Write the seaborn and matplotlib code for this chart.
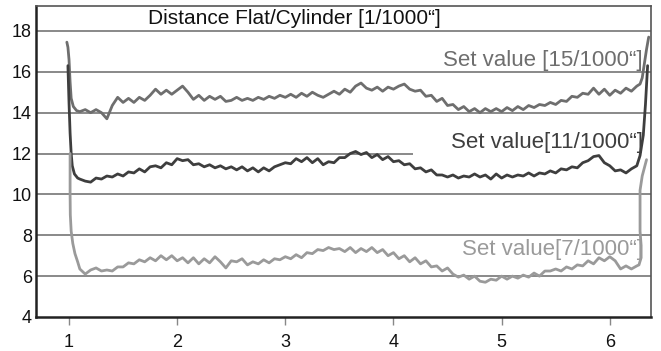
import matplotlib
matplotlib.use("Agg")
import matplotlib.pyplot as plt
import seaborn as sns
import pandas as pd

# ---------------- data ----------------
x_body = [1.10, 1.15, 1.20, 1.25, 1.30, 1.35, 1.40, 1.45, 1.50, 1.55,
          1.60, 1.65, 1.70, 1.75, 1.80, 1.85, 1.90, 1.95, 2.00, 2.05,
          2.10, 2.15, 2.20, 2.25, 2.30, 2.35, 2.40, 2.45, 2.50, 2.55,
          2.60, 2.65, 2.70, 2.75, 2.80, 2.85, 2.90, 2.95, 3.00, 3.05,
          3.10, 3.15, 3.20, 3.25, 3.30, 3.35, 3.40, 3.45, 3.50, 3.55,
          3.60, 3.65, 3.70, 3.75, 3.80, 3.85, 3.90, 3.95, 4.00, 4.05,
          4.10, 4.15, 4.20, 4.25, 4.30, 4.35, 4.40, 4.45, 4.50, 4.55,
          4.60, 4.65, 4.70, 4.75, 4.80, 4.85, 4.90, 4.95, 5.00, 5.05,
          5.10, 5.15, 5.20, 5.25, 5.30, 5.35, 5.40, 5.45, 5.50, 5.55,
          5.60, 5.65, 5.70, 5.75, 5.80, 5.85, 5.90, 5.95, 6.00, 6.05,
          6.10, 6.15, 6.20, 6.25]

# Set value 15/1000"
x15_head = [0.98, 0.99, 1.00, 1.01, 1.02, 1.04, 1.07]
y15_head = [17.45, 17.2, 16.6, 15.5, 14.7, 14.3, 14.1]
y15_body = [14.05, 14.15, 14.0, 14.15, 14.0, 13.7, 14.35, 14.75, 14.5, 14.7,
            14.5, 14.75, 14.6, 14.85, 15.15, 14.9, 15.1, 14.9, 15.1, 15.3,
            15.0, 14.65, 14.85, 14.6, 14.8, 14.65, 14.8, 14.55, 14.6, 14.75,
            14.6, 14.7, 14.6, 14.75, 14.65, 14.8, 14.7, 14.85, 14.75, 14.9,
            14.75, 14.95, 14.8, 15.0, 14.85, 14.75, 14.9, 15.05, 14.9, 15.15,
            15.0, 15.3, 15.45, 15.2, 15.1, 15.25, 15.05, 15.25, 15.15, 15.3,
            15.4, 15.15, 15.05, 15.1, 14.8, 14.85, 14.55, 14.7, 14.35, 14.4,
            14.15, 14.3, 14.05, 14.2, 14.0, 14.2, 14.05, 14.2, 14.05, 14.25,
            14.1, 14.3, 14.15, 14.35, 14.25, 14.4, 14.35, 14.5, 14.4, 14.6,
            14.55, 14.8, 14.75, 14.95, 14.9, 15.2, 14.9, 15.15, 14.85, 15.1,
            14.95, 15.2, 15.05, 15.3]
x15_tail = [6.28, 6.30, 6.32, 6.34, 6.36]
y15_tail = [15.4, 15.7, 16.4, 17.1, 17.7]

# Set value 11/1000"
x11_head = [0.99, 1.00, 1.01, 1.02, 1.03, 1.05, 1.08]
y11_head = [16.3, 14.5, 13.0, 12.0, 11.4, 11.0, 10.8]
y11_body = [10.75, 10.65, 10.6, 10.8, 10.75, 10.9, 10.85, 11.0, 10.9, 11.1,
            11.05, 11.25, 11.1, 11.35, 11.4, 11.3, 11.55, 11.45, 11.75, 11.65,
            11.7, 11.45, 11.5, 11.35, 11.45, 11.3, 11.4, 11.25, 11.35, 11.2,
            11.35, 11.15, 11.3, 11.1, 11.3, 11.15, 11.35, 11.45, 11.55, 11.5,
            11.75, 11.6, 11.8, 11.55, 11.75, 11.45, 11.6, 11.55, 11.8, 11.8,
            12.0, 12.1, 11.95, 12.05, 11.8, 11.95, 11.7, 11.85, 11.6, 11.65,
            11.45, 11.5, 11.25, 11.3, 11.1, 11.2, 10.95, 10.95, 10.85, 10.95,
            10.8, 10.9, 10.85, 11.0, 10.85, 10.95, 10.75, 11.0, 10.8, 10.95,
            10.85, 10.95, 10.9, 11.05, 10.9, 11.05, 11.0, 11.15, 11.05, 11.25,
            11.2, 11.35, 11.3, 11.55, 11.65, 11.85, 11.9, 11.55, 11.4, 11.15,
            11.2, 11.05, 11.25, 11.4]
x11_tail = [6.28, 6.31, 6.33, 6.35]
y11_tail = [11.9, 12.9, 14.4, 16.3]

# Set value 7/1000"
x7_head = [1.01, 1.01, 1.012, 1.02, 1.035, 1.055, 1.08]
y7_head = [12.0, 10.0, 9.0, 8.2, 7.6, 7.1, 6.7]
y7_body = [6.35, 6.1, 6.3, 6.4, 6.25, 6.3, 6.25, 6.45, 6.45, 6.65,
           6.6, 6.8, 6.7, 6.9, 6.75, 7.0, 6.8, 7.0, 6.75, 6.9,
           6.65, 6.9, 6.6, 6.85, 6.65, 6.95, 6.7, 6.4, 6.75, 6.7,
           6.85, 6.55, 6.7, 6.6, 6.8, 6.65, 6.85, 6.8, 6.95, 6.85,
           7.05, 6.9, 7.15, 7.1, 7.3, 7.25, 7.4, 7.3, 7.35, 7.2,
           7.4, 7.15, 7.35, 7.2, 7.4, 7.15, 7.3, 7.0, 7.15, 6.85,
           7.0, 6.7, 6.9, 6.6, 6.75, 6.45, 6.5, 6.25, 6.4, 6.1,
           5.95, 6.05, 5.85, 6.0, 5.75, 5.7, 5.85, 5.8, 6.0, 5.85,
           6.0, 5.9, 6.05, 5.95, 6.15, 6.0, 6.25, 6.25, 6.35, 6.25,
           6.45, 6.35, 6.55, 6.5, 6.75, 6.6, 6.9, 6.75, 6.95, 6.75,
           6.35, 6.5, 6.35, 6.5]
x7_tail = [6.27, 6.29, 6.29, 6.28, 6.28, 6.28, 6.30, 6.34]
y7_tail = [6.55, 6.9, 7.5, 8.2, 9.2, 10.2, 10.9, 11.7]

series_names = ['Set value [15/1000“]', 'Set value[11/1000“]', 'Set value[7/1000“]']
series_colors = ['#6e6e6e', '#3e3e3e', '#9a9a9a']
label_y = [16.55, 12.55, 7.3]

x_ticks = [1, 2, 3, 4, 5, 6]
y_ticks = [4, 6, 8, 10, 12, 14, 16, 18]
grid_full = [6, 8, 10, 14, 16, 18]
grid_short = 12
grid_short_end = 4.18
title_text = 'Distance Flat/Cylinder [1/1000“]'

# ---------------- frame ----------------
rows = []
for name, xh, yh, yb, xt, yt in [
        (series_names[0], x15_head, y15_head, y15_body, x15_tail, y15_tail),
        (series_names[1], x11_head, y11_head, y11_body, x11_tail, y11_tail),
        (series_names[2], x7_head, y7_head, y7_body, x7_tail, y7_tail)]:
    xs = list(xh) + list(x_body) + list(xt)
    ys = list(yh) + list(yb) + list(yt)
    for i, (xv, yv) in enumerate(zip(xs, ys)):
        rows.append({'series': name, 'order': i, 'x': xv, 'y': yv})
df = pd.DataFrame(rows)

sns.set_theme(style="white")
plt.rcParams['font.family'] = ['Liberation Sans', 'DejaVu Sans']

fig = plt.figure(figsize=(6.61, 3.51), dpi=100)
ax = fig.add_axes([0.0545, 0.0969, 0.930, 0.886])

xmin, xmax = 0.695, 6.379
ymin, ymax = 4.0, 19.22

ax.hlines(grid_full, xmin, xmax, colors='#6a6a6a', linewidth=1.1, zorder=1)
ax.hlines([grid_short], xmin, grid_short_end, colors='#6a6a6a', linewidth=1.1, zorder=1)

sns.lineplot(data=df, x='x', y='y', hue='series', units='series', estimator=None,
             sort=False, palette=dict(zip(series_names, series_colors)),
             linewidth=2.0, legend=False, ax=ax, zorder=3)

for name, col, ly in zip(series_names, series_colors, label_y):
    ax.text(6.305, ly, name, color=col, fontsize=16, ha='right', va='center', zorder=4)

ax.text(3.08, 18.62, title_text, color='#111111', fontsize=15, ha='center', va='center')

ax.set_xlim(xmin, xmax)
ax.set_ylim(ymin, ymax)
ax.set_xticks(x_ticks)
ax.set_yticks(y_ticks)
ax.set_xticklabels([str(v) for v in x_ticks], fontsize=13, color='#111111')
ax.set_yticklabels([str(v) for v in y_ticks], fontsize=13, color='#111111')
ax.tick_params(axis='x', length=6, width=1, color='#888888', pad=6, bottom=True)
ax.tick_params(axis='y', length=0, pad=3)
ax.set_xlabel('')
ax.set_ylabel('')

for side in ['left', 'bottom']:
    ax.spines[side].set_color('#222222')
    ax.spines[side].set_linewidth(1.8)
for side in ['top', 'right']:
    ax.spines[side].set_color('#555555')
    ax.spines[side].set_linewidth(1.2)

fig.savefig('out.png', dpi=100)
